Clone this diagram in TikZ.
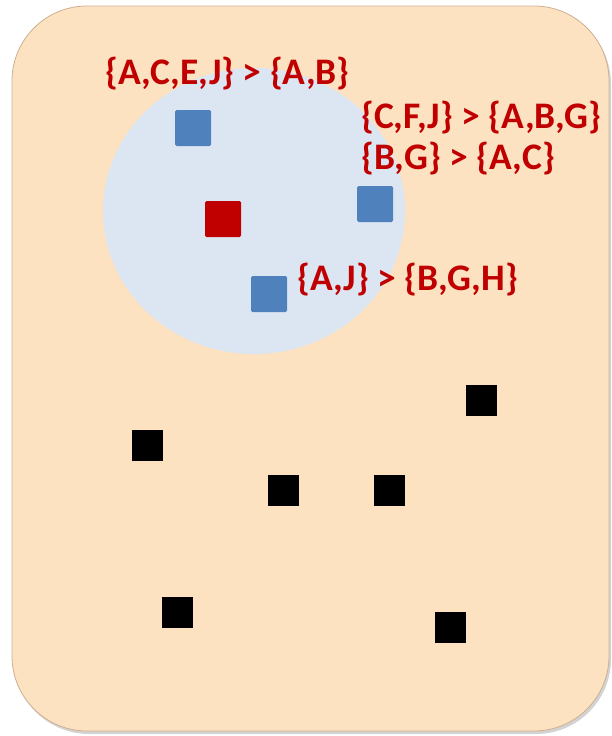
\documentclass[tikz,border=0pt]{standalone}
\usepackage{fontspec}
\setmainfont{Carlito}
\usetikzlibrary{shadows}

\definecolor{boxpeach}{RGB}{253,226,193}
\definecolor{boxedge}{RGB}{205,175,145}
\definecolor{zoneblue}{RGB}{220,230,242}
\definecolor{ptblue}{RGB}{79,129,189}
\definecolor{ptred}{RGB}{192,0,0}

\begin{document}
\begin{tikzpicture}[
  x=1pt, y=-1pt,
  box/.style     = {fill=boxpeach, draw=boxedge, line width=0.8pt, rounded corners=75pt,
                    drop shadow={shadow xshift=2pt, shadow yshift=-3pt, opacity=0.35}},
  zone/.style    = {fill=zoneblue, draw=none},
  near pt/.style = {fill=ptblue, draw=none, rounded corners=1.5pt, minimum size=36pt, inner sep=0pt},
  query pt/.style= {fill=ptred, draw=none, rounded corners=1.5pt, minimum size=36pt, inner sep=0pt},
  far pt/.style  = {fill=black, draw=none, minimum size=31pt, inner sep=0pt},
  rule/.style    = {text=ptred, anchor=base west, inner sep=0pt,
                    font=\fontsize{37.5}{42}\selectfont\bfseries},
]
\useasboundingbox (0,0) rectangle (612,736);

% ── Frame and neighbourhood ────────────────────────────────────────────────
\path[box] (12,6) rectangle (609,731);
\path[zone] (254,211) ellipse [x radius=151, y radius=143];

% ── Points inside the neighbourhood ────────────────────────────────────────
\node[near pt]  (nA) at (193,128) {};
\node[near pt]  (nB) at (375,204) {};
\node[near pt]  (nC) at (269,294) {};
\node[query pt] (q)  at (223,219) {};

% ── Points outside ─────────────────────────────────────────────────────────
\node[far pt] (f1) at (481,400) {};
\node[far pt] (f2) at (147,445) {};
\node[far pt] (f3) at (283,490) {};
\node[far pt] (f4) at (389,490) {};
\node[far pt] (f5) at (177,612) {};
\node[far pt] (f6) at (450,627) {};

% ── Preference rules ───────────────────────────────────────────────────────
\node[rule] (rA)  at (105,84)  {\{A,C,E,J\} > \{A,B\}};
\node[rule] (rB1) at (361,128) {\{C,F,J\} > \{A,B,G\}};
\node[rule] (rB2) at (361,169) {\{B,G\} > \{A,C\}};
\node[rule] (rC)  at (297,290) {\{A,J\} > \{B,G,H\}};

\end{tikzpicture}
\end{document}
